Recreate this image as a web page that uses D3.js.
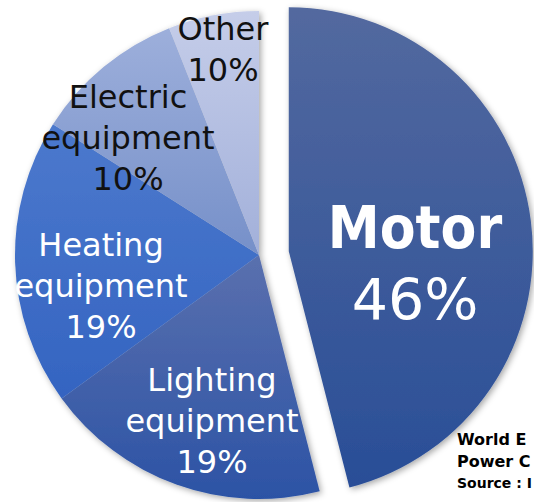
<!DOCTYPE html>
<html><head><meta charset="utf-8">
<script src="https://cdn.jsdelivr.net/npm/d3@7"></script>
<style>html,body{margin:0;padding:0;background:#fff;overflow:hidden}</style>
</head><body>
<svg id="c" width="534" height="502"></svg>
<script>
const categories = ["Motor", "Lighting equipment", "Heating equipment", "Electric equipment", "Other"];
const values = [46, 19, 19, 10, 6];
const percentLabels = ["46%", "19%", "19%", "10%", "10%"];
const labelLines = [["Motor"], ["Lighting", "equipment"], ["Heating", "equipment"], ["Electric", "equipment"], ["Other"]];
const gradTop = ["#53699f", "#5a70ae", "#4c79cd", "#9dafdb", "#c5cde9"];
const gradBottom = ["#294e97", "#2c53a5", "#3464c1", "#7690c9", "#a2b0da"];
const textColor = ["#ffffff", "#ffffff", "#ffffff", "#111111", "#111111"];
const sourceLines = ["World E", "Power C", "Source : I"];

const svg = d3.select("#c");
const cx = 259, cy = 255, R = 244, explode = 30;
const defs = svg.append("defs");
const f = defs.append("filter").attr("id", "sh").attr("x", "-10%").attr("y", "-10%").attr("width", "120%").attr("height", "120%");
f.append("feDropShadow").attr("dx", 2).attr("dy", 2).attr("stdDeviation", 3).attr("flood-color", "#000").attr("flood-opacity", 0.35);
categories.forEach((c, i) => {
  const g = defs.append("linearGradient").attr("id", "g" + i).attr("x1", 0).attr("y1", 0).attr("x2", 0).attr("y2", 1);
  g.append("stop").attr("offset", "0%").attr("stop-color", gradTop[i]);
  g.append("stop").attr("offset", "100%").attr("stop-color", gradBottom[i]);
});

const pie = d3.pie().sort(null).value(d => d)(values);
const arc = d3.arc().innerRadius(0).outerRadius(R);
const root = svg.append("g").attr("transform", `translate(${cx},${cy})`);
const offs = pie.map((p, i) => {
  if (i !== 0) return [0, 0];
  const m = (p.startAngle + p.endAngle) / 2;
  return [Math.sin(m) * explode, -Math.cos(m) * explode];
});
const rest = root.append("g").attr("filter", "url(#sh)");
pie.forEach((p, i) => {
  if (i === 0) return;
  rest.append("path").attr("d", arc(p)).attr("fill", `url(#g${i})`);
});
root.append("path").attr("d", arc(pie[0]))
  .attr("transform", `translate(${offs[0][0]},${offs[0][1]})`)
  .attr("fill", "url(#g0)").attr("filter", "url(#sh)");

// label placement (relative to center)
const labelPos = [[156, -7], [-47, 136], [-158, 1], [-131, -147], [-36, -215]];
const lh = 41;
pie.forEach((p, i) => {
  const lines = labelLines[i].concat([percentLabels[i]]);
  const t = root.append("text").attr("text-anchor", "middle").attr("fill", textColor[i])
    .attr("transform", `translate(${labelPos[i][0]},${labelPos[i][1]})`);
  if (i === 0) {
    t.append("tspan").attr("x", 0).attr("y", 0).attr("font-family", "DejaVu Sans Condensed, DejaVu Sans")
      .attr("font-weight", "bold").attr("font-size", 58).attr("font-stretch", "condensed").text(lines[0]);
    t.append("tspan").attr("x", 0).attr("y", 72).attr("font-family", "DejaVu Sans").attr("font-size", 57).text(lines[1]);
  } else {
    lines.forEach((l, k) => {
      t.append("tspan").attr("x", 0).attr("y", k * lh).attr("font-family", "DejaVu Sans").attr("font-size", 32).text(l);
    });
  }
});

const src = svg.append("g").attr("font-family", "DejaVu Sans").attr("font-weight", "bold").attr("fill", "#000");
src.append("text").attr("x", 457).attr("y", 445).attr("font-size", 16).text(sourceLines[0]);
src.append("text").attr("x", 457).attr("y", 467).attr("font-size", 16).text(sourceLines[1]);
src.append("text").attr("x", 457).attr("y", 488).attr("font-size", 14).text(sourceLines[2]);
</script>
</body></html>
